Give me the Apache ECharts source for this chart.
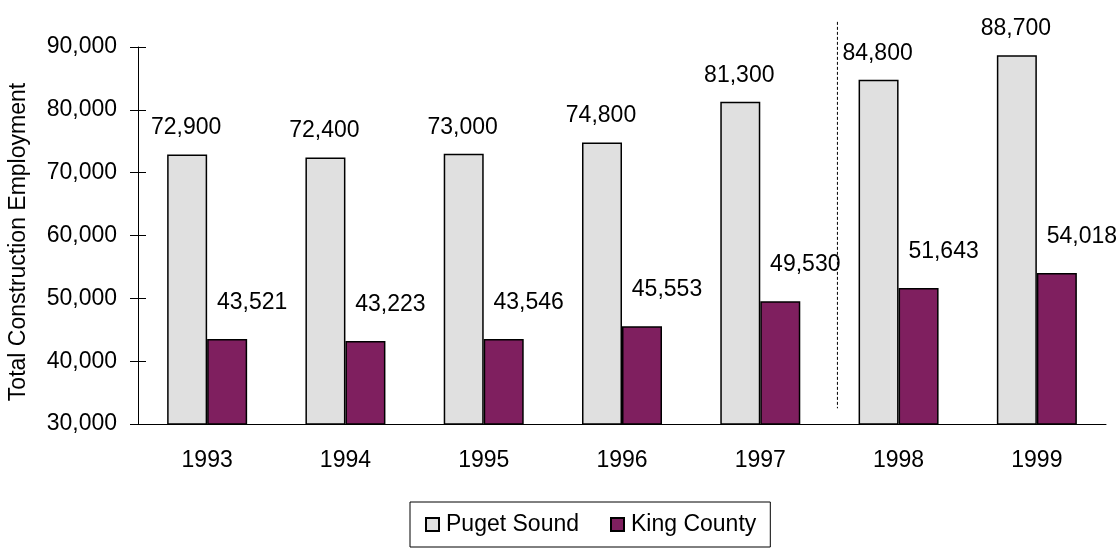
<!DOCTYPE html>
<html>
<head>
<meta charset="utf-8">
<script src="https://cdn.jsdelivr.net/npm/echarts@6/dist/echarts.min.js"></script>
<style>
  html, body { margin: 0; padding: 0; background: #fff; }
  #chart { width: 1118px; height: 557px; }
</style>
</head>
<body>
<div id="chart"></div>
<script>
  // 年份
  var years = ['1993', '1994', '1995', '1996', '1997', '1998', '1999'];
  // 两组数据
  var pugetSound = [72900, 72400, 73000, 74800, 81300, 84800, 88700];
  var kingCounty = [43521, 43223, 43546, 45553, 49530, 51643, 54018];
  var legendNames = ['Puget Sound', 'King County'];
  // 纵轴范围
  var yMin = 30000, yMax = 90000, yStep = 10000;

  var font = 'Liberation Sans, Arial, sans-serif';
  var chart = echarts.init(document.getElementById('chart'));

  function fmt(v) {
    return v.toLocaleString('en-US');
  }

  chart.setOption({
    animation: false,
    textStyle: { fontFamily: font, color: '#000' },
    grid: { left: 138, right: 12, top: 47, bottom: 133, containLabel: false, outerBoundsMode: 'none' },
    legend: {
      data: legendNames,
      icon: 'rect',
      left: 410,
      top: 502,
      padding: [11, 14, 11, 15],
      itemGap: 31,
      itemWidth: 13,
      itemHeight: 13,
      borderColor: '#000',
      borderWidth: 1,
      textStyle: { fontSize: 23, fontFamily: font, color: '#000', padding: [0, 0, 0, 2] }
    },
    xAxis: [
      {
        type: 'category',
        data: years,
        axisLine: { lineStyle: { color: '#000', width: 1 } },
        axisTick: { length: 8, lineStyle: { color: '#000' } },
        axisLabel: { fontSize: 23, color: '#000', margin: 25, fontFamily: font }
      },
      {
        // 刻度线向上的部分
        type: 'category',
        data: years,
        position: 'bottom',
        axisLine: { show: false },
        axisTick: { inside: true, length: 8, lineStyle: { color: '#000' } },
        axisLabel: { show: false }
      }
    ],
    yAxis: [
      {
        type: 'value',
        name: 'Total Construction Employment',
        nameLocation: 'middle',
        nameGap: 108,
        nameTextStyle: { fontSize: 23, color: '#000', fontFamily: font, padding: [0, 13, 0, 0] },
        min: yMin,
        max: yMax,
        interval: yStep,
        axisLine: { show: true, lineStyle: { color: '#000' } },
        axisTick: { show: true, length: 8, lineStyle: { color: '#000' } },
        axisLabel: { fontSize: 23, color: '#000', margin: 21, fontFamily: font, formatter: fmt },
        splitLine: { show: false }
      },
      {
        // 刻度线向右的部分
        type: 'value',
        position: 'left',
        offset: 0,
        min: yMin,
        max: yMax,
        interval: yStep,
        axisLine: { show: false },
        axisTick: { show: true, inside: true, length: 8, lineStyle: { color: '#000' } },
        axisLabel: { show: false },
        splitLine: { show: false }
      }
    ],
    series: [
      {
        name: legendNames[0],
        type: 'bar',
        data: pugetSound,
        barWidth: 40,
        barGap: '0%',
        itemStyle: { color: '#e0e0e0', borderColor: '#000', borderWidth: 1.5 },
        label: {
          show: true,
          position: 'top',
          distance: 15,
          offset: [-1, 0],
          fontSize: 23,
          color: '#000',
          fontFamily: font,
          formatter: function (p) { return fmt(p.value); }
        }
      },
      {
        name: legendNames[1],
        type: 'bar',
        data: kingCounty,
        barWidth: 40,
        barGap: '0%',
        itemStyle: { color: '#7f1f5f', borderColor: '#000', borderWidth: 1.5 },
        label: {
          show: true,
          position: 'top',
          distance: 25,
          offset: [25, 0],
          fontSize: 23,
          color: '#000',
          fontFamily: font,
          formatter: function (p) { return fmt(p.value); }
        }
      }
    ]
  });

  // 1997 与 1998 之间的虚线分隔
  var p1 = chart.convertToPixel({ xAxisIndex: 0, yAxisIndex: 0 }, ['1997', 94000]);
  var p2 = chart.convertToPixel({ xAxisIndex: 0, yAxisIndex: 0 }, ['1998', 32500]);
  var sepX = (p1[0] + p2[0]) / 2 + 8;
  chart.setOption({
    graphic: [{
      type: 'line',
      shape: { x1: sepX, y1: p1[1], x2: sepX, y2: p2[1] },
      style: { stroke: '#000', lineWidth: 1, lineDash: [3, 2] },
      z: 10
    }]
  });
</script>
</body>
</html>
